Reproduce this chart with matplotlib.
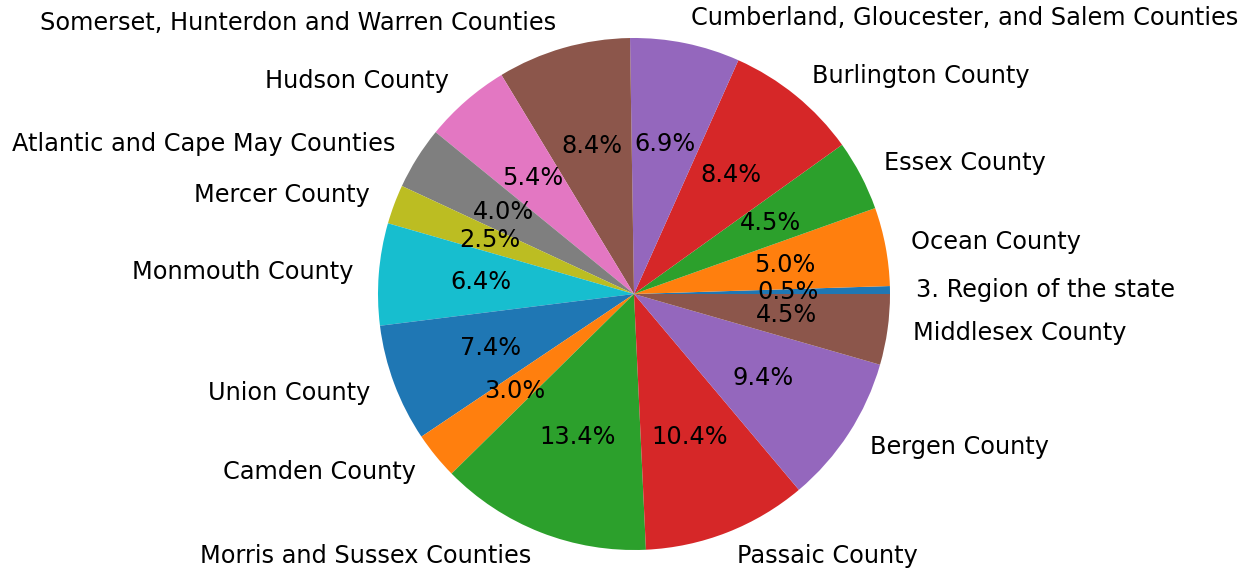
import matplotlib
matplotlib.use("Agg")
import matplotlib.pyplot as plt

labels = ["3. Region of the state", "Ocean County", "Essex County", "Burlington County",
          "Cumberland, Gloucester, and Salem Counties", "Somerset, Hunterdon and Warren Counties",
          "Hudson County", "Atlantic and Cape May Counties", "Mercer County", "Monmouth County",
          "Union County", "Camden County", "Morris and Sussex Counties", "Passaic County",
          "Bergen County", "Middlesex County"]
counts = [1, 10, 9, 17, 14, 17, 11, 8, 5, 13, 15, 6, 27, 21, 19, 9]

fig = plt.figure(figsize=(12.5, 5.71), dpi=100)
W, H = 1250, 571
cx, cy, r = 634, 294, 256
side = 2.5 * r
ax = fig.add_axes([(cx - side / 2) / W, (H - cy - side / 2) / H, side / W, side / H])
ax.pie(counts, labels=labels, autopct="%1.1f%%", textprops={"fontsize": 17.3})
ax.set_aspect("equal")
fig.savefig("out.png", dpi=100)
